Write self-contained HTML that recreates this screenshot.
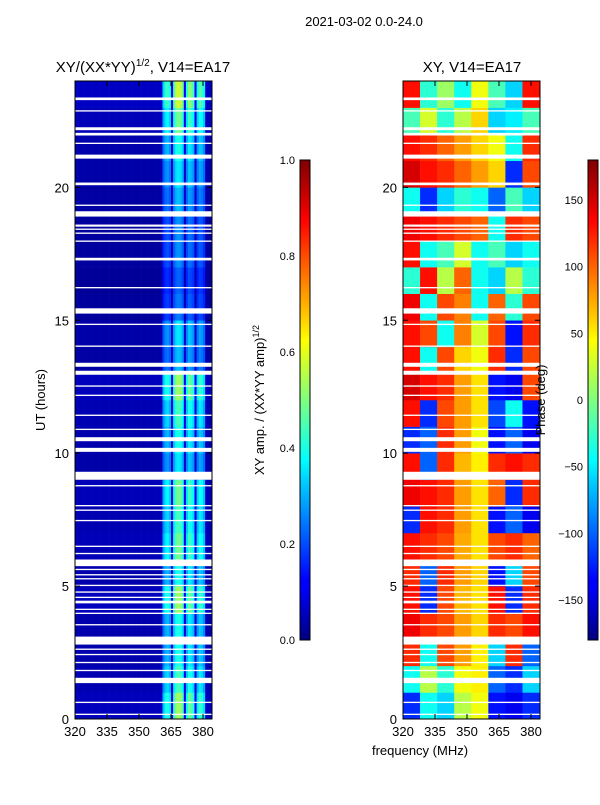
<!DOCTYPE html>
<html><head><meta charset="utf-8"><style>
body{margin:0;background:#fff;font-family:"Liberation Sans",sans-serif;}
svg text{font-family:"Liberation Sans",sans-serif;fill:#000;}
</style></head><body>
<svg id="fig" width="600" height="800" viewBox="0 0 600 800" xmlns="http://www.w3.org/2000/svg">
<defs>
<linearGradient id="jet" x1="0" y1="1" x2="0" y2="0">
<stop offset="0" stop-color="#00007f"/><stop offset="0.11" stop-color="#0000ff"/><stop offset="0.125" stop-color="#0000ff"/><stop offset="0.34" stop-color="#00d8ff"/><stop offset="0.375" stop-color="#00ffff"/><stop offset="0.5" stop-color="#7fff7f"/><stop offset="0.625" stop-color="#ffff00"/><stop offset="0.66" stop-color="#ffd800"/><stop offset="0.875" stop-color="#ff0000"/><stop offset="1" stop-color="#7f0000"/>
</linearGradient>
</defs>
<text x="364" y="26" font-size="13" text-anchor="middle">2021-03-02 0.0-24.0</text>
<text x="143" y="72" font-size="15" text-anchor="middle">XY/(XX*YY)<tspan font-size="10" dy="-6">1/2</tspan><tspan dy="6">, V14=EA17</tspan></text>
<text x="472" y="72" font-size="15" text-anchor="middle">XY, V14=EA17</text>
<g id="ampCells"></g>
<g id="phCells"></g>
<g id="axes"></g>
<text transform="translate(45,400) rotate(-90)" font-size="13" text-anchor="middle">UT (hours)</text>
<text x="420" y="755" font-size="13" text-anchor="middle">frequency (MHz)</text>
<rect x="300" y="160" width="10" height="480" fill="url(#jet)" stroke="#000" stroke-width="1"/>
<rect x="588" y="160" width="10" height="480" fill="url(#jet)" stroke="#000" stroke-width="1"/>
<text transform="translate(264,400) rotate(-90)" font-size="13" text-anchor="middle">XY amp. / (XX*YY amp)<tspan font-size="9" dy="-5">1/2</tspan></text>
<text transform="translate(545,400) rotate(-90)" font-size="13" text-anchor="middle">Phase (deg)</text>
</svg>
<script>
// ---- data ----
const hours = [0,1,2,3,4,5,6,7,8,9,10,11,12,13,14,15,16,17,18,19,20,21,22,23];
const ampChannels = [];
for (let i=0;i<64;i++) ampChannels.push(320+i);
const ampProfile = [0.05,0.05,0.05,0.05,0.05,0.05,0.05,0.05,0.05,0.05,0.05,0.05,0.05,0.05,0.05,0.05,0.05,0.05,0.05,0.05,
0.05,0.05,0.05,0.05,0.05,0.05,0.05,0.05,0.05,0.05,0.05,0.05,0.05,0.05,0.05,0.05,0.05,0.05,0.05,0.05,
0.06,0.26,0.32,0.34,0.3,0.1,0.36,0.43,0.45,0.43,0.38,0.1,0.32,0.4,0.38,0.34,0.1,0.3,0.36,0.34,0.29,0.06,0.05,0.05];
const ampRowScale = [1.2,1.0,0.9,0.9,1.2,0.9,1.1,1.0,1.1,0.8,0.9,1.0,1.2,0.7,0.8,0.55,0.5,0.6,0.6,0.7,0.8,0.9,1.1,1.3];
const phaseChannels = [320,328,336,344,352,360,368,376];
const phaseGrid = [
[-120,-40,-60,20,40,-130,-140,-120],
[-40,20,-30,40,50,-100,-120,-60],
[120,-40,110,80,50,-60,120,-100],
[140,120,110,80,60,120,110,130],
[130,-120,110,70,55,130,-120,120],
[120,-100,120,80,60,-130,-60,110],
[130,120,110,75,55,110,120,100],
[-120,130,120,80,55,-130,-100,-140],
[140,130,120,80,55,100,-120,120],
[130,-100,120,70,50,120,130,120],
[-120,-100,120,80,40,-130,-100,-140],
[130,-120,110,80,55,-110,-40,-130],
[150,130,120,80,55,-130,-140,110],
[130,-40,110,60,40,120,-120,110],
[130,110,-40,90,30,110,-130,120],
[140,-40,110,90,-40,100,-30,110],
[-30,130,20,100,-40,-60,20,-30],
[130,-40,-20,30,-40,-20,-60,-40],
[140,130,120,110,100,-40,120,110],
[-40,-120,-60,-30,-40,-100,-20,-60],
[150,130,120,100,80,60,-120,110],
[130,120,100,80,60,40,-40,120],
[-20,30,-30,20,60,-60,-50,-20],
[130,-30,10,-40,40,-20,-60,130]];
const flags = [[23.28,23.38],[22.85,22.9],[22.15,22.26],[21.95,22.05],[21.63,21.68],[21.08,21.23],[20.08,20.18],
[19.3,19.35],[18.9,19.1],[18.52,18.6],[18.4,18.45],[18.25,18.3],[17.95,18.0],[17.25,17.35],[16.2,16.25],
[15.25,15.45],[14.82,14.87],[14.0,14.05],[13.25,13.4],[12.95,13.1],[12.5,12.55],[12.15,12.2],[11.4,11.45],
[10.87,10.92],[10.45,10.6],[10.05,10.2],[9.0,9.3],[8.75,8.8],[8.0,8.05],[7.83,7.88],[7.44,7.49],[6.47,6.52],
[6.2,6.25],[5.75,6.0],[5.6,5.65],[5.4,5.45],[5.25,5.3],[5.0,5.05],[4.75,4.8],[4.55,4.6],[4.35,4.45],[4.1,4.15],
[3.95,4.0],[3.52,3.57],[2.8,3.1],[2.6,2.65],[2.4,2.45],[2.1,2.15],[1.8,1.85],[1.35,1.55],[0.6,0.65],[0.15,0.2]];
const xTicks = [320,335,350,365,380];
const yTicks = [0,5,10,15,20];
const ampCbTicks = ["0.0","0.2","0.4","0.6","0.8","1.0"];
const phCbTicks = [-150,-100,-50,0,50,100,150];

// ---- helpers ----
const NS="http://www.w3.org/2000/svg";
const PT=81, PB=719, PW=137, FMIN=320, FMAX=320+137*15/32;
const panels=[{x0:75,name:'amp'},{x0:403,name:'phase'}];
function xs(p,f){return p.x0+(f-FMIN)/(FMAX-FMIN)*PW;}
function ys(h){return PB-h/24*(PB-PT);}
function jet(v){v=Math.max(0,Math.min(1,v));
 const c=x=>Math.max(0,Math.min(1,x));
 const r=c(1.5-Math.abs(4*v-3)),g=c(1.5-Math.abs(4*v-2)),b=c(1.5-Math.abs(4*v-1));
 return `rgb(${Math.round(r*255)},${Math.round(g*255)},${Math.round(b*255)})`;}
function mk(tag,attrs,parent){const e=document.createElementNS(NS,tag);for(const k in attrs)e.setAttribute(k,attrs[k]);parent.appendChild(e);return e;}

const ag=document.getElementById('ampCells');
hours.forEach((h,ri)=>{
 ampChannels.forEach((f,ci)=>{
  const x1=xs(panels[0],f), x2=xs(panels[0],Math.min(f+1,FMAX));
  const r=mk('rect',{x:x1,y:ys(h+1),width:x2-x1+0.3,height:ys(h)-ys(h+1)+0.3,fill:jet(ampProfile[ci]*ampRowScale[ri])},ag);
  
  
 });
});
const pg=document.getElementById('phCells');
hours.forEach((h,ri)=>{
 phaseChannels.forEach((f,ci)=>{
  const x1=xs(panels[1],f), x2=xs(panels[1],Math.min(f+8,FMAX));
  const r=mk('rect',{x:x1,y:ys(h+1),width:x2-x1+0.3,height:ys(h)-ys(h+1)+0.3,fill:jet((phaseGrid[ri][ci]+180)/360)},pg);
  
  
 });
});
const axg=document.getElementById('axes');
panels.forEach(p=>{
 flags.forEach(fl=>{
  const r=mk('rect',{x:p.x0,y:ys(fl[1]),width:PW,height:ys(fl[0])-ys(fl[1]),fill:'#fff'},axg);
  
  
 });
 const fr=mk('rect',{x:p.x0,y:PT,width:PW,height:PB-PT,fill:'none',stroke:'#000','stroke-width':1},axg);
 
 
 xTicks.forEach(t=>{
  const x=xs(p,t);
  mk('line',{x1:x,x2:x,y1:PB,y2:PB-5,stroke:'#000'},axg);
  mk('line',{x1:x,x2:x,y1:PT,y2:PT+5,stroke:'#000'},axg);
  const tx=mk('text',{x:x,y:PB+17,'font-size':13,'text-anchor':'middle'},axg);
  tx.textContent=t;
  
  
 });
 yTicks.forEach(t=>{
  const y=ys(t);
  mk('line',{x1:p.x0,x2:p.x0+5,y1:y,y2:y,stroke:'#000'},axg);
  mk('line',{x1:p.x0+PW,x2:p.x0+PW-5,y1:y,y2:y,stroke:'#000'},axg);
  const tx=mk('text',{x:p.x0-6,y:y+5,'font-size':13,'text-anchor':'end'},axg);
  tx.textContent=t;
  
  
 });
});
ampCbTicks.forEach((t,i)=>{
 const y=640-parseFloat(t)*480;
 const tx=mk('text',{x:295,y:y+4,'font-size':11,'text-anchor':'end'},axg);
 tx.textContent=t;
 
 
});
phCbTicks.forEach(t=>{
 const y=640-(t+180)/360*480;
 const tx=mk('text',{x:583,y:y+4,'font-size':11,'text-anchor':'end'},axg);
 tx.textContent=t<0?'\u2212'+(-t):String(t);
 
 
});
</script>
</body></html>
